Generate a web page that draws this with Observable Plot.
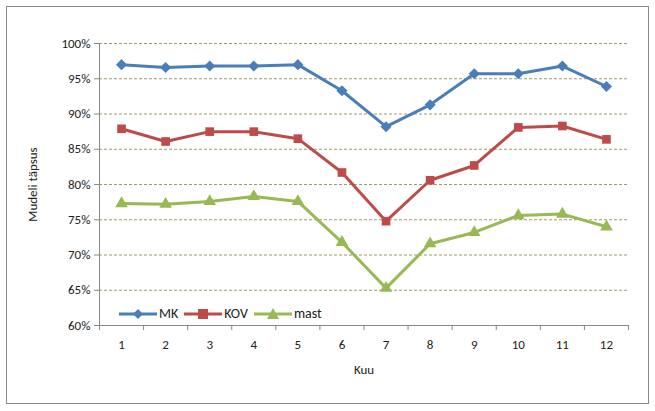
<!DOCTYPE html>
<html><head><meta charset="utf-8">
<script src="https://cdn.jsdelivr.net/npm/d3@7"></script>
<script src="https://cdn.jsdelivr.net/npm/@observablehq/plot@0.6"></script>
<style>
body{margin:0;background:#fff;font-family:Calibri,"Liberation Sans",Arial,sans-serif}
#box{position:absolute;left:6px;top:6px;width:641px;height:396px;border:1px solid #888;}
#chart{position:absolute;left:0;top:0}
#legend{position:absolute;left:112px;top:298px;font-size:14px;display:flex;gap:6px;align-items:center;color:#222}
#legend span{display:flex;align-items:center;gap:2px}
</style></head><body>
<div id="box"><div id="chart"></div>
<div id="legend">
<span><svg width="38" height="12"><line x1="0" y1="6" x2="38" y2="6" stroke="#4a7ebb" stroke-width="3"/><path d="M19 1 L24 6 L19 11 L14 6Z" fill="#4a7ebb"/></svg>MK</span>
<span><svg width="38" height="12"><line x1="0" y1="6" x2="38" y2="6" stroke="#be4b48" stroke-width="3"/><rect x="14" y="1" width="10" height="10" fill="#be4b48"/></svg>KOV</span>
<span><svg width="38" height="12"><line x1="0" y1="6" x2="38" y2="6" stroke="#98b954" stroke-width="3"/><path d="M19 0 L25 11 L13 11Z" fill="#98b954"/></svg>mast</span>
</div></div>
<script>
const months = [1,2,3,4,5,6,7,8,9,10,11,12];
const mk   = [97.0,96.6,96.8,96.8,97.0,93.3,88.2,91.3,95.7,95.7,96.8,93.9];
const kov  = [87.9,86.1,87.5,87.5,86.5,81.7,74.8,80.6,82.7,88.1,88.3,86.4];
const mast = [77.3,77.2,77.6,78.3,77.6,71.8,65.3,71.6,73.2,75.6,75.8,74.0];
const yTicks = [60,65,70,75,80,85,90,95,100];
const series = [
  {name:"MK", values:mk, color:"#4a7ebb", symbol:"diamond2", r:5},
  {name:"KOV", values:kov, color:"#be4b48", symbol:"square2", r:5.5},
  {name:"mast", values:mast, color:"#98b954", symbol:"triangle2", r:6}
];
const boundaries = d3.range(0.5, 13, 1);
const marks = [
  Plot.gridY(yTicks.slice(1), {stroke:"#a09a6a", strokeOpacity:1, strokeDasharray:"3,2"}),
  Plot.axisY(yTicks, {tickFormat:d=>d+"%", tickSize:5, tickPadding:4, stroke:"#888", label:"Mudeli täpsus", labelAnchor:"center", labelOffset:72, labelArrow:"none", fontSize:13}),
  Plot.axisX(months, {tickSize:0, tickPadding:14, label:"Kuu", labelAnchor:"center", labelOffset:48, labelArrow:"none", fontSize:13}),
  Plot.axisX(boundaries, {tickSize:5, tickFormat:()=>"", stroke:"#888", label:null}),
  Plot.frame({anchor:"left", stroke:"#888"}),
  Plot.frame({anchor:"bottom", stroke:"#888"}),
];
for (const s of series) {
  const d = months.map((m,i)=>({kuu:m, v:s.values[i]}));
  marks.push(Plot.line(d, {x:"kuu", y:"v", stroke:s.color, strokeWidth:3}));
  marks.push(Plot.dot(d, {x:"kuu", y:"v", fill:s.color, symbol:s.symbol, r:s.r}));
}
const chart = Plot.plot({
  width:641, height:396,
  marginLeft:92, marginTop:36, marginRight:20, marginBottom:78,
  style:{fontSize:"13px", fontFamily:"Calibri, 'Liberation Sans', Arial, sans-serif", color:"#222"},
  x:{domain:[0.5,12.5]},
  y:{domain:[60,100]},
  marks
});
document.getElementById("chart").append(chart);
</script>
</body></html>
